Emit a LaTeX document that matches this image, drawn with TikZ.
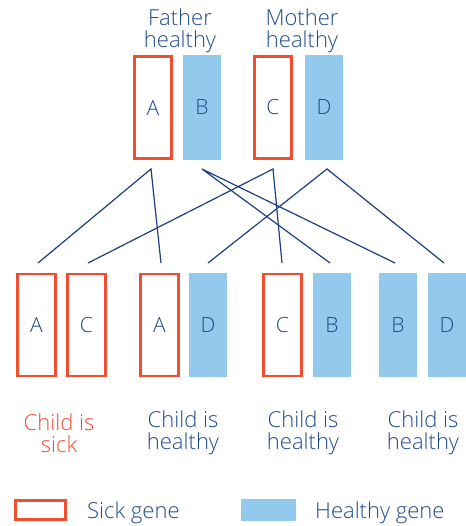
\documentclass[tikz,border=0pt]{standalone}
\usepackage{fontspec}
\setmainfont{Open Sans Light}
\definecolor{sick}{HTML}{F04E2E}
\definecolor{healthy}{HTML}{93C9EC}
\definecolor{navy}{HTML}{1F4C8A}
\definecolor{linec}{HTML}{1B3F7E}
\begin{document}
\begin{tikzpicture}[x=1pt,y=-1pt,
  txt/.style={font=\fontsize{22}{22}\selectfont, text=navy, align=center, inner sep=0pt},
  sickbox/.style={draw=sick, line width=2.6pt, fill=white, minimum width=37.5pt, minimum height=102pt, inner sep=0pt, font=\fontsize{21}{22}\selectfont, text=navy},
  okbox/.style={fill=healthy, minimum width=38pt, minimum height=104.5pt, inner sep=0pt, font=\fontsize{21}{22}\selectfont, text=navy},
  conn/.style={draw=linec, line width=1.2pt}]
\useasboundingbox (0,0) rectangle (465,526);
% titles
\node[txt] (fh) at (180,31) {Father\\healthy};
\node[txt] (mh) at (302,31) {Mother\\healthy};
% parents
\node[sickbox] (pA) at (153,107.5) {A};
\node[okbox] (pB) at (202,107.5) {B};
\node[sickbox] (pC) at (273,107.5) {C};
\node[okbox] (pD) at (324,107.5) {D};
% children
\node[sickbox] (c1a) at (36.5,325) {A};
\node[sickbox] (c1b) at (86.5,325) {C};
\node[sickbox] (c2a) at (159.5,325) {A};
\node[okbox] (c2b) at (208,325) {D};
\node[sickbox] (c3a) at (282.5,325) {C};
\node[okbox] (c3b) at (332,325) {B};
\node[okbox] (c4a) at (398,325) {B};
\node[okbox] (c4b) at (447,325) {D};
% connector points
\coordinate (tA) at (151,169);
\coordinate (tB) at (202,169);
\coordinate (tC) at (273,169);
\coordinate (tD) at (327,169);
\coordinate (b1) at (38,263);
\coordinate (b2) at (88,263);
\coordinate (b3) at (161,263);
\coordinate (b4) at (208,263);
\coordinate (b5) at (282,263);
\coordinate (b6) at (330,263);
\coordinate (b7) at (395,263);
\coordinate (b8) at (444,263);
\draw[conn] (b1) -- (tA) -- (b3);
\draw[conn] (b6) -- (tB) -- (b7);
\draw[conn] (b2) -- (tC) -- (b5);
\draw[conn] (b4) -- (tD) -- (b8);
% child labels
\node[txt, text=sick] (l1) at (59,433) {Child is\\sick};
\node[txt] (l2) at (183,433) {Child is\\healthy};
\node[txt] (l3) at (303,433) {Child is\\healthy};
\node[txt] (l4) at (423,433) {Child is\\healthy};
% legend
\node[draw=sick, line width=2.6pt, minimum width=50pt, minimum height=19pt, inner sep=0pt] (lg1) at (40.5,510) {};
\node[txt, anchor=west] (lt1) at (87,513) {Sick gene};
\node[fill=healthy, minimum width=55pt, minimum height=22pt, inner sep=0pt] (lg2) at (268.5,510) {};
\node[txt, anchor=west] (lt2) at (315,513) {Healthy gene};
\end{tikzpicture}
\end{document}
